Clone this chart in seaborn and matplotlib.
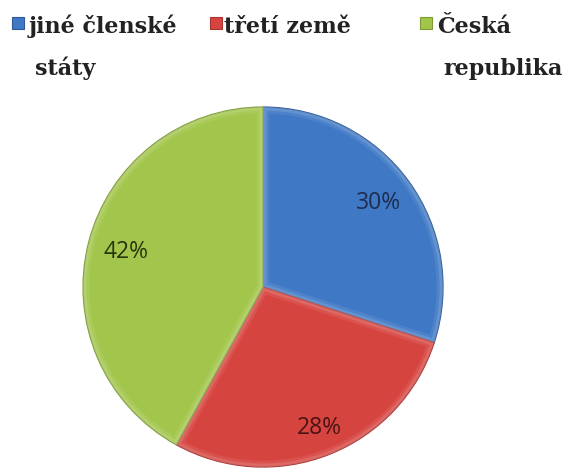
import matplotlib
matplotlib.use("Agg")
import matplotlib.pyplot as plt
from matplotlib.patches import Rectangle, Wedge
import numpy as np
import seaborn as sns

# Share of each origin group
categories = ["jiné členské\nstáty", "třetí země", "Česká\nrepublika"]
shares = [30, 28, 42]

colors = ["#3f79c6", "#d6443f", "#a2c64b"]
edge_colors = ["#2c5a96", "#a83330", "#7d9a35"]
label_colors = ["#1d2d4f", "#4a1414", "#27350e"]

sns.set_theme(style="white")
plt.rcParams["font.family"] = ["Open Sans", "DejaVu Sans"]

fig = plt.figure(figsize=(5.66, 4.69), dpi=100)
fig.patch.set_facecolor("white")
ax = fig.add_axes([0.1467, 0.0042, 0.636, 0.7676])

wedges, texts, autotexts = ax.pie(
    shares,
    colors=colors,
    startangle=90,
    counterclock=False,
    autopct="%d%%",
    pctdistance=0.8,
    wedgeprops=dict(linewidth=0.9),
    textprops=dict(fontsize=16.5),
)
for w, ec in zip(wedges, edge_colors):
    w.set_edgecolor(ec)
    # soft bevel: faint light band along the inside of each slice border
    for lw, a in [(9, 0.08), (5, 0.12)]:
        hl = Wedge(w.center, w.r, w.theta1, w.theta2, facecolor="none",
                   edgecolor="white", alpha=a, linewidth=lw,
                   zorder=w.get_zorder() + 0.1)
        ax.add_patch(hl)
        hl.set_clip_path(w)

# label radius per wedge
dists = [0.79, 0.845, 0.786]
for w, t, d, c in zip(wedges, autotexts, dists, label_colors):
    ang = np.deg2rad((w.theta1 + w.theta2) / 2)
    t.set_position((d * np.cos(ang), d * np.sin(ang)))
    t.set_color(c)
    t.set_zorder(5)

ax.set_xlim(-1, 1)
ax.set_ylim(-1, 1)
ax.set_aspect("equal")
ax.axis("off")

# Legend across the top, two text lines per entry
W, H = 566, 469
square_x = [12, 210, 420]
text_x = [29, 224, 437]
legend_font = ["DejaVu Serif"]
for sx, tx, lab, col, ec in zip(square_x, text_x, categories, colors, edge_colors):
    fig.patches.append(Rectangle((sx / W, 1 - 29 / H), 12 / W, 12 / H,
                                 transform=fig.transFigure,
                                 facecolor=col, edgecolor=ec, linewidth=0.8))
    first, *rest = lab.split("\n")
    fig.text(tx / W, 1 - 33 / H, first, fontsize=16, fontweight="bold",
             family=legend_font, color="#222222", ha="left", va="baseline")
    if rest:
        fig.text((tx + 6) / W, 1 - 75 / H, rest[0], fontsize=16, fontweight="bold",
                 family=legend_font, color="#222222", ha="left", va="baseline")

fig.savefig("out.png", dpi=100, facecolor="white")
